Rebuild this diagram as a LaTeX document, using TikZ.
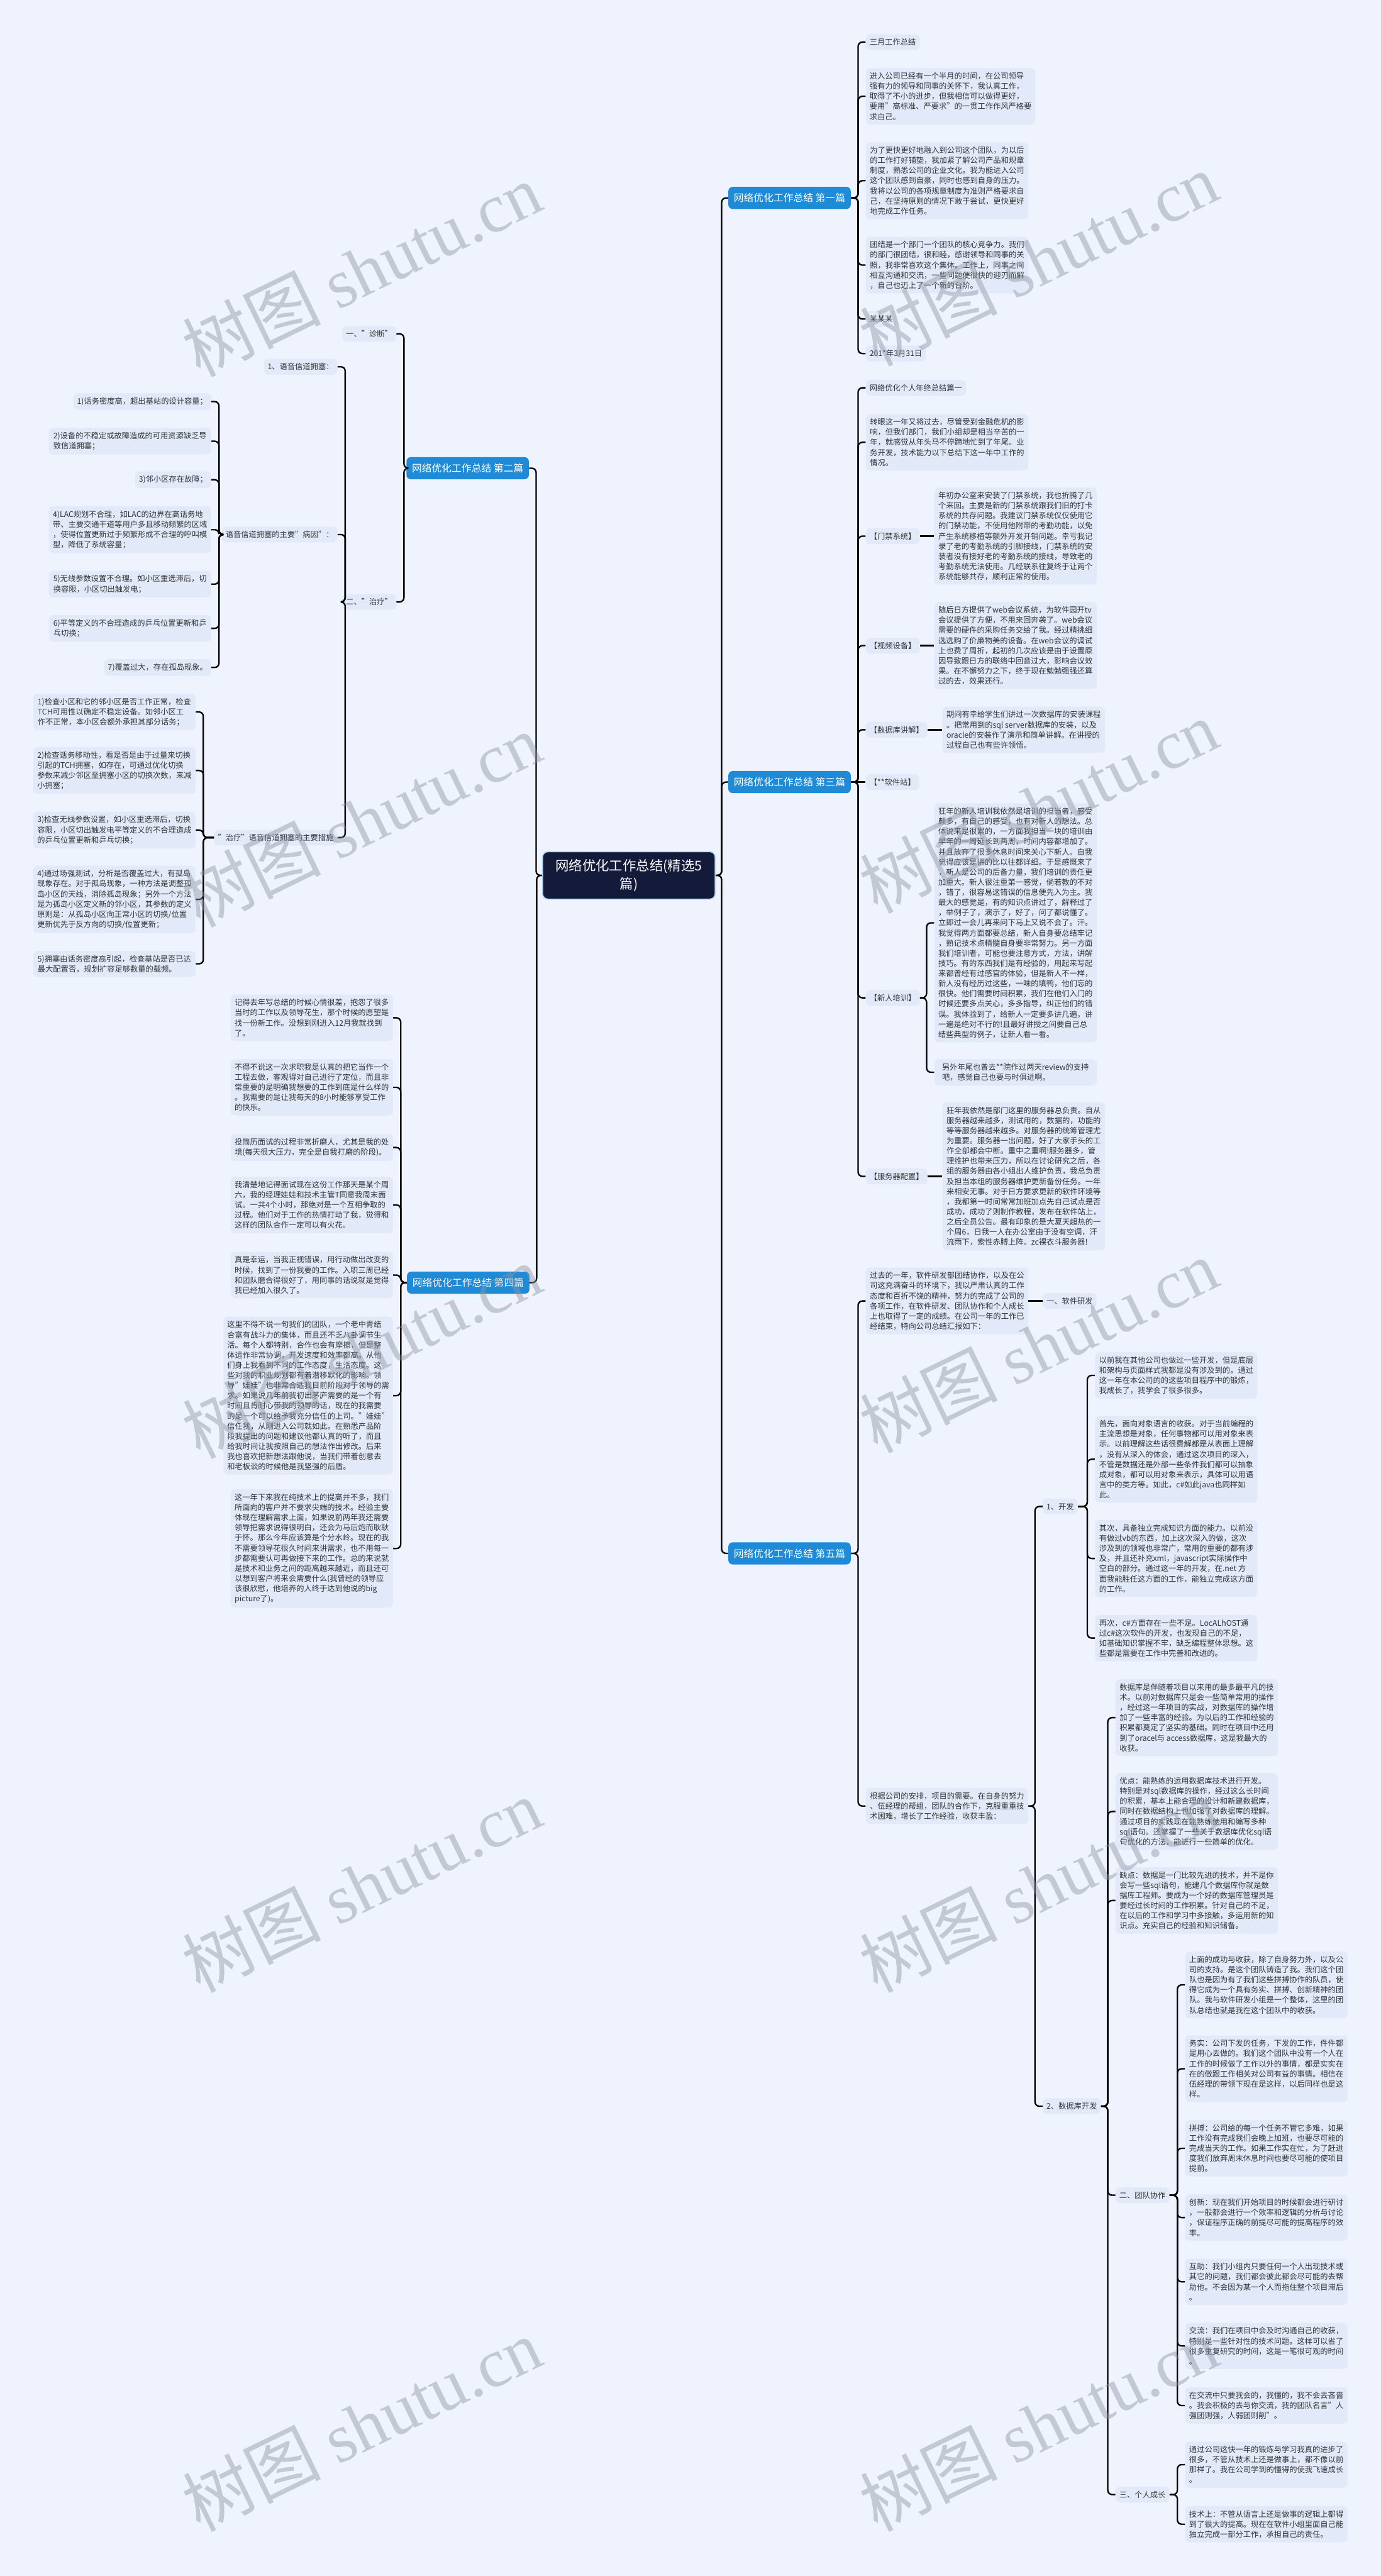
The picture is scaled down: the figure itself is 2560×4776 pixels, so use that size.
\documentclass[tikz,border=0pt]{standalone}
\usepackage{fontspec}
\setmainfont{Noto Sans CJK SC}
\newfontfamily\wmlatin{Liberation Serif}
\definecolor{paper}{HTML}{EEF3FD}
\definecolor{boxc}{HTML}{E2EAF9}
\definecolor{bluec}{HTML}{1F8AD6}
\definecolor{navy}{HTML}{141A3A}
\definecolor{ink}{HTML}{333333}
\definecolor{wmc}{HTML}{8E96A3}
\newcommand\boxfont{\fontsize{7.15pt}{9.4pt}\selectfont}
\newcommand\branchfont{\fontsize{9.2pt}{11pt}\selectfont}
\newcommand\rootfont{\fontsize{12.5pt}{17pt}\selectfont}
\newcommand\wmfont{\fontsize{64pt}{64pt}\selectfont}
\begin{document}
\begin{tikzpicture}[x=0.5pt,y=-0.5pt,
  txt/.style={fill=boxc,rounded corners=4pt,inner xsep=3.5pt,inner ysep=4pt,align=left,font=\boxfont,text=ink},
  para/.style={txt,minimum width=150.5pt},
  branch/.style={fill=bluec,text=white,rounded corners=4pt,font=\branchfont,inner xsep=5pt,minimum height=20.5pt,minimum width=113.5pt},
  root/.style={fill=navy,draw=white!65!bluec,line width=1pt,text=white,rounded corners=5pt,font=\rootfont,align=center,minimum width=160pt,minimum height=44pt},
  link/.style={line width=1.35pt,rounded corners=4pt},
  wmk/.style={text=wmc,opacity=.45,font=\wmfont,rotate=26,anchor=south west,inner sep=0pt}]
\useasboundingbox (0,0) rectangle (2560,4776);
\fill[paper] (0,0) rectangle (2560,4776);

% centre and the five parts
\node[root] (root) at (1166,1623) {网络优化工作总结(精选5\\篇)};
\node[branch,anchor=west] (s1) at (1350,367) {网络优化工作总结 第一篇};
\node[branch,anchor=west] (s3) at (1350,1450) {网络优化工作总结 第三篇};
\node[branch,anchor=west] (s5) at (1350,2880) {网络优化工作总结 第五篇};
\node[branch,anchor=east] (s2) at (981,868) {网络优化工作总结 第二篇};
\node[branch,anchor=east] (s4) at (982,2378) {网络优化工作总结 第四篇};
\draw[link] (s1.west) -- ++(-12,0) |- (root.east);
\draw[link] (s3.west) -- ++(-12,0) |- (root.east);
\draw[link] (s5.west) -- ++(-12,0) |- (root.east);
\draw[link] (s2.east) -- ++(13,0) |- (root.west);
\draw[link] (s4.east) -- ++(13,0) |- (root.west);

% part one
\node[txt,anchor=west] (s1a) at (1605,78) {三月工作总结};
\node[para,anchor=west] (s1b) at (1605,178.5) {进入公司已经有一个半月的时间，在公司领导\\强有力的领导和同事的关怀下，我认真工作，\\取得了不小的进步，但我相信可以做得更好，\\要用"高标准、严要求"的一贯工作作风严格要\\求自己。};
\node[para,anchor=west] (s1c) at (1605,335) {为了更快更好地融入到公司这个团队，为以后\\的工作打好铺垫，我加紧了解公司产品和规章\\制度，熟悉公司的企业文化。我为能进入公司\\这个团队感到自豪，同时也感到自身的压力。\\我将以公司的各项规章制度为准则严格要求自\\己，在坚持原则的情况下敢于尝试，更快更好\\地完成工作任务。};
\node[para,anchor=west] (s1d) at (1605,491.5) {团结是一个部门一个团队的核心竞争力。我们\\的部门很团结，很和睦，感谢领导和同事的关\\照，我非常喜欢这个集体。工作上，同事之间\\相互沟通和交流，一些问题便很快的迎刃而解\\，自己也迈上了一个新的台阶。};
\node[txt,anchor=west] (s1e) at (1605,591.5) {某某某};
\node[txt,anchor=west] (s1f) at (1605,655.5) {201*年3月31日};
\draw[link] (s1a.west) -- ++(-14,0) |- (s1.east);
\draw[link] (s1b.west) -- ++(-14,0) |- (s1.east);
\draw[link] (s1c.west) -- ++(-14,0) |- (s1.east);
\draw[link] (s1d.west) -- ++(-14,0) |- (s1.east);
\draw[link] (s1e.west) -- ++(-14,0) |- (s1.east);
\draw[link] (s1f.west) -- ++(-14,0) |- (s1.east);

% part three
\node[txt,anchor=west] (s3a) at (1605,719) {网络优化个人年终总结篇一};
\node[para,anchor=west] (s3b) at (1605,820) {转眼这一年又将过去，尽管受到金融危机的影\\响，但我们部门，我们小组却是相当辛苦的一\\年，就感觉从年头马不停蹄地忙到了年尾。业\\务开发，技术能力以下总结下这一年中工作的\\情况。};
\node[txt,anchor=west] (s3c) at (1605,994) {【门禁系统】};
\node[para,anchor=west] (s3ct) at (1732,994) {年初办公室来安装了门禁系统，我也折腾了几\\个来回。主要是新的门禁系统跟我们旧的打卡\\系统的共存问题。我建议门禁系统仅仅使用它\\的门禁功能，不使用他附带的考勤功能，以免\\产生系统移植等额外开发开销问题。幸亏我记\\录了老的考勤系统的引脚接线，门禁系统的安\\装者没有接好老的考勤系统的接线，导致老的\\考勤系统无法使用。几经联系往复终于让两个\\系统能够共存，顺利正常的使用。};
\node[txt,anchor=west] (s3d) at (1605,1197) {【视频设备】};
\node[para,anchor=west] (s3dt) at (1732,1197) {随后日方提供了web会议系统，为软件园开tv\\会议提供了方便，不用来回奔袭了。web会议\\需要的硬件的采购任务交给了我。经过精挑细\\选选购了价廉物美的设备。在web会议的调试\\上也费了周折，起初的几次应该是由于设置原\\因导致跟日方的联络中回音过大，影响会议效\\果。在不懈努力之下，终于现在勉勉强强还算\\过的去，效果还行。};
\node[txt,anchor=west] (s3e) at (1605,1353) {【数据库讲解】};
\node[para,anchor=west] (s3et) at (1747,1353) {期间有幸给学生们讲过一次数据库的安装课程\\。把常用到的sql server数据库的安装，以及\\oracle的安装作了演示和简单讲解。在讲授的\\过程自己也有些许领悟。};
\node[txt,anchor=west] (s3f) at (1605,1450) {【**软件站】};
\node[txt,anchor=west] (s3g) at (1605,1850) {【新人培训】};
\node[para,anchor=west] (s3gt) at (1732,1711) {狂年的新人培训我依然是培训的担当者，感受\\颇多，有自己的感受，也有对新人的想法。总\\体说来是很累的，一方面我担当一块的培训由\\早年的一周延长到两周，时间内容都增加了。\\并且放弃了很多休息时间来关心下新人。自我\\觉得应该是讲的比以往都详细。于是感慨来了\\，新人是公司的后备力量，我们培训的责任更\\加重大。新人很注重第一感觉，倘若教的不对\\，错了，很容易这错误的信息便先入为主。我\\最大的感觉是，有的知识点讲过了，解释过了\\，举例子了，演示了，好了，问了都说懂了。\\立即过一会儿再来问下马上又说不会了。汗。\\我觉得两方面都要总结，新人自身要总结牢记\\，熟记技术点精髓自身要非常努力。另一方面\\我们培训者，可能也要注意方式，方法，讲解\\技巧。有的东西我们是有经验的，用起来写起\\来都曾经有过感官的体验，但是新人不一样，\\新人没有经历过这些，一味的填鸭，他们忘的\\很快。他们需要时间积累，我们在他们入门的\\时候还要多点关心，多多指导，纠正他们的错\\误。我体验到了，给新人一定要多讲几遍，讲\\一遍是绝对不行的!且最好讲授之间要自己总\\结些典型的例子，让新人看一看。};
\node[para,anchor=west] (s3gu) at (1732,1988) {另外年尾也曾去**院作过两天review的支持\\吧，感觉自己也要与时俱进啊。};
\node[txt,anchor=west] (s3h) at (1605,2181) {【服务器配置】};
\node[para,anchor=west] (s3ht) at (1747,2181) {狂年我依然是部门这里的服务器总负责。自从\\服务器越来越多，测试用的，数据的，功能的\\等等服务器越来越多。对服务器的统筹管理尤\\为重要。服务器一出问题，好了大家手头的工\\作全部都会中断。重中之重啊!服务器多，管\\理维护也带来压力，所以在讨论研究之后，各\\组的服务器由各小组出人维护负责，我总负责\\及担当本组的服务器维护更新备份任务。一年\\来相安无事。对于日方要求更新的软件环境等\\，我都第一时间常常加班加点先自己试点是否\\成功，成功了则制作教程，发布在软件站上，\\之后全员公告。最有印象的是大夏天超热的一\\个周6，日我一人在办公室由于没有空调，汗\\流雨下，索性赤膊上阵。zc裸衣斗服务器!};
\draw[link] (s3a.west) -- ++(-14,0) |- (s3.east);
\draw[link] (s3b.west) -- ++(-14,0) |- (s3.east);
\draw[link] (s3c.west) -- ++(-14,0) |- (s3.east);
\draw[link] (s3d.west) -- ++(-14,0) |- (s3.east);
\draw[link] (s3e.west) -- ++(-14,0) |- (s3.east);
\draw[link] (s3f.west) -- (s3.east);
\draw[link] (s3g.west) -- ++(-14,0) |- (s3.east);
\draw[link] (s3h.west) -- ++(-14,0) |- (s3.east);
\draw[link] (s3c.east) -- (s3ct.west);
\draw[link] (s3d.east) -- (s3dt.west);
\draw[link] (s3e.east) -- (s3et.west);
\draw[link] (s3h.east) -- (s3ht.west);
\draw[link] (s3gt.west) -- ++(-14,0) |- (s3g.east);
\draw[link] (s3gu.west) -- ++(-14,0) |- (s3g.east);

% part five
\node[para,anchor=west] (s5a) at (1605,2412) {过去的一年，软件研发部团结协作，以及在公\\司这充满奋斗的环境下，我以严肃认真的工作\\态度和百折不饶的精神，努力的完成了公司的\\各项工作，在软件研发、团队协作和个人成长\\上也取得了一定的成绩。在公司一年的工作已\\经结束，特向公司总结汇报如下：};
\node[txt,anchor=west] (s5b) at (1933,2412) {一、软件研发};
\node[para,anchor=west] (s5c) at (1605,3348.5) {根据公司的安排，项目的需要。在自身的努力\\、伍经理的帮组，团队的合作下，克服重重技\\术困难，增长了工作经验，收获丰盈：};
\node[txt,anchor=west] (s5d) at (1933,2793) {1、开发};
\node[para,anchor=west] (d1) at (2030,2550) {以前我在其他公司也做过一些开发，但是底层\\和架构与页面样式我都是没有涉及到的。通过\\这一年在本公司的的这些项目程序中的锻炼，\\我成长了，我学会了很多很多。};
\node[para,anchor=west] (d2) at (2030,2705.5) {首先，面向对象语言的收获。对于当前编程的\\主流思想是对象，任何事物都可以用对象来表\\示。以前理解这些话很费解都是从表面上理解\\，没有从深入的体会，通过这次项目的深入，\\不管是数据还是外部一些条件我们都可以抽象\\成对象，都可以用对象来表示，具体可以用语\\言中的类方等。如此，c\#如此java也同样如\\此。};
\node[para,anchor=west] (d3) at (2030,2889.5) {其次，具备独立完成知识方面的能力。以前没\\有做过vb的东西，加上这次深入的做，这次\\涉及到的领域也非常广，常用的重要的都有涉\\及，并且还补充xml，javascript实际操作中\\空白的部分。通过这一年的开发，在.net 方\\面我能胜任这方面的工作，能独立完成这方面\\的工作。};
\node[para,anchor=west] (d4) at (2030,3037) {再次，c\#方面存在一些不足。LocALhOST通\\过c\#这次软件的开发，也发现自己的不足，\\如基础知识掌握不牢，缺乏编程整体思想。这\\些都是需要在工作中完善和改进的。};
\node[txt,anchor=west] (s5e) at (1933,3905) {2、数据库开发};
\node[para,anchor=west] (e1) at (2068,3184.5) {数据库是伴随着项目以来用的最多最平凡的技\\术。以前对数据库只是会一些简单常用的操作\\，经过这一年项目的实战，对数据库的操作增\\加了一些丰富的经验。为以后的工作和经验的\\积累都奠定了坚实的基础。同时在项目中还用\\到了oracel与 access数据库，这是我最大的\\收获。};
\node[para,anchor=west] (e2) at (2068,3358.5) {优点：能熟练的运用数据库技术进行开发。\\特别是对sql数据库的操作，经过这么长时间\\的积累，基本上能合理的设计和新建数据库，\\同时在数据结构上也加强了对数据库的理解。\\通过项目的实践现在能熟练使用和编写多种\\sql语句。还掌握了一些关于数据库优化sql语\\句优化的方法，能进行一些简单的优化。};
\node[para,anchor=west] (e3) at (2068,3523.5) {缺点：数据是一门比较先进的技术，并不是你\\会写一些sql语句，能建几个数据库你就是数\\据库工程师。要成为一个好的数据库管理员是\\要经过长时间的工作积累。针对自己的不足，\\在以后的工作和学习中多接触，多运用新的知\\识点。充实自己的经验和知识储备。};
\node[txt,anchor=west] (s5f) at (2068,4070) {二、团队协作};
\node[para,anchor=west] (f1) at (2197,3680) {上面的成功与收获，除了自身努力外，以及公\\司的支持。是这个团队铸造了我。我们这个团\\队也是因为有了我们这些拼搏协作的队员，使\\得它成为一个具有务实、拼搏、创新精神的团\\队。我与软件研发小组是一个整体，这里的团\\队总结也就是我在这个团队中的收获。};
\node[para,anchor=west] (f2) at (2197,3835.5) {务实：公司下发的任务，下发的工作，件件都\\是用心去做的。我们这个团队中没有一个人在\\工作的时候做了工作以外的事情，都是实实在\\在的做跟工作相关对公司有益的事情。相信在\\伍经理的带领下现在是这样，以后同样也是这\\样。};
\node[para,anchor=west] (f3) at (2197,3983) {拼搏：公司给的每一个任务不管它多难，如果\\工作没有完成我们会晚上加班，也要尽可能的\\完成当天的工作。如果工作实在忙，为了赶进\\度我们放弃周末休息时间也要尽可能的使项目\\提前。};
\node[para,anchor=west] (f4) at (2197,4111.5) {创新：现在我们开始项目的时候都会进行研讨\\，一般都会进行一个效率和逻辑的分析与讨论\\，保证程序正确的前提尽可能的提高程序的效\\率。};
\node[para,anchor=west] (f5) at (2197,4230.5) {互助：我们小组内只要任何一个人出现技术或\\其它的问题，我们都会彼此都会尽可能的去帮\\助他。不会因为某一个人而拖住整个项目滞后\\。};
\node[para,anchor=west] (f6) at (2197,4349.5) {交流：我们在项目中会及时沟通自己的收获，\\特别是一些针对性的技术问题。这样可以省了\\很多重复研究的时间，这是一笔很可观的时间\\。};
\node[para,anchor=west] (f7) at (2197,4460) {在交流中只要我会的，我懂的，我不会去吝啬\\。我会积极的去与你交流，我的团队名言"人\\强团则强，人弱团则削"。};
\node[txt,anchor=west] (s5g) at (2068,4625) {三、个人成长};
\node[para,anchor=west] (g1) at (2197,4569.5) {通过公司这快一年的锻炼与学习我真的进步了\\很多，不管从技术上还是做事上，都不像以前\\那样了。我在公司学到的懂得的使我飞速成长\\。};
\node[para,anchor=west] (g2) at (2197,4680) {技术上：不管从语言上还是做事的逻辑上都得\\到了很大的提高。现在在软件小组里面自己能\\独立完成一部分工作，承担自己的责任。};
\draw[link] (s5a.west) -- ++(-14,0) |- (s5.east);
\draw[link] (s5c.west) -- ++(-14,0) |- (s5.east);
\draw[link] (s5a.east) -- (s5b.west);
\draw[link] (s5d.west) -- ++(-14,0) |- (s5c.east);
\draw[link] (s5e.west) -- ++(-14,0) |- (s5c.east);
\draw[link] (d1.west) -- ++(-14,0) |- (s5d.east);
\draw[link] (d2.west) -- ++(-14,0) |- (s5d.east);
\draw[link] (d3.west) -- ++(-14,0) |- (s5d.east);
\draw[link] (d4.west) -- ++(-14,0) |- (s5d.east);
\draw[link] (e1.west) -- ++(-14,0) |- (s5e.east);
\draw[link] (e2.west) -- ++(-14,0) |- (s5e.east);
\draw[link] (e3.west) -- ++(-14,0) |- (s5e.east);
\draw[link] (s5f.west) -- ++(-14,0) |- (s5e.east);
\draw[link] (s5g.west) -- ++(-14,0) |- (s5e.east);
\draw[link] (f1.west) -- ++(-14,0) |- (s5f.east);
\draw[link] (f2.west) -- ++(-14,0) |- (s5f.east);
\draw[link] (f3.west) -- ++(-14,0) |- (s5f.east);
\draw[link] (f4.west) -- ++(-14,0) |- (s5f.east);
\draw[link] (f5.west) -- ++(-14,0) |- (s5f.east);
\draw[link] (f6.west) -- ++(-14,0) |- (s5f.east);
\draw[link] (f7.west) -- ++(-14,0) |- (s5f.east);
\draw[link] (g1.west) -- ++(-14,0) |- (s5g.east);
\draw[link] (g2.west) -- ++(-14,0) |- (s5g.east);

% part two
\node[txt,anchor=east] (s2a) at (735,619) {一、"诊断"};
\node[txt,anchor=east] (s2b) at (735,1116) {二、"治疗"};
\node[txt,anchor=east] (s2c) at (626,680) {1、语音信道拥塞：};
\node[txt,anchor=east] (s2d) at (626,991) {语音信道拥塞的主要"病因"：};
\node[txt,anchor=east] (s2e) at (626,1553) {"治疗"语音信道拥塞的主要措施};
\node[txt,anchor=east] (c1) at (392,744.5) {1)话务密度高，超出基站的设计容量；};
\node[para,anchor=east] (c2) at (392,818) {2)设备的不稳定或故障造成的可用资源缺乏导\\致信道拥塞；};
\node[txt,anchor=east] (c3) at (392,889.5) {3)邻小区存在故障；};
\node[para,anchor=east] (c4) at (392,982) {4)LAC规划不合理，如LAC的边界在高话务地\\带、主要交通干道等用户多且移动频繁的区域\\，使得位置更新过于频繁形成不合理的呼叫模\\型，降低了系统容量；};
\node[para,anchor=east] (c5) at (392,1083) {5)无线参数设置不合理。如小区重选滞后，切\\换容限，小区切出触发电；};
\node[para,anchor=east] (c6) at (392,1165) {6)平等定义的不合理造成的乒乓位置更新和乒\\乓切换；};
\node[txt,anchor=east] (c7) at (392,1237.5) {7)覆盖过大，存在孤岛现象。};
\node[para,anchor=east] (t1) at (363,1320) {1)检查小区和它的邻小区是否工作正常，检查\\TCH可用性以确定不稳定设备。如邻小区工\\作不正常，本小区会额外承担其部分话务；};
\node[para,anchor=east] (t2) at (363,1428.5) {2)检查话务移动性，看是否是由于过量来切换\\引起的TCH拥塞，如存在，可通过优化切换\\参数来减少邻区至拥塞小区的切换次数，来减\\小拥塞；};
\node[para,anchor=east] (t3) at (363,1539) {3)检查无线参数设置，如小区重选滞后，切换\\容限，小区切出触发电平等定义的不合理造成\\的乒乓位置更新和乒乓切换；};
\node[para,anchor=east] (t4) at (363,1667.5) {4)通过场强测试，分析是否覆盖过大，有孤岛\\现象存在。对于孤岛现象，一种方法是调整孤\\岛小区的天线，消除孤岛现象；另外一个方法\\是为孤岛小区定义新的邻小区，其参数的定义\\原则是：从孤岛小区向正常小区的切换/位置\\更新优先于反方向的切换/位置更新；};
\node[para,anchor=east] (t5) at (363,1787) {5)拥塞由话务密度高引起，检查基站是否已达\\最大配置否，规划扩容足够数量的载频。};
\draw[link] (s2a.east) -- ++(14,0) |- (s2.west);
\draw[link] (s2b.east) -- ++(14,0) |- (s2.west);
\draw[link] (s2c.east) -- ++(14,0) |- (s2b.west);
\draw[link] (s2d.east) -- ++(14,0) |- (s2b.west);
\draw[link] (s2e.east) -- ++(14,0) |- (s2b.west);
\draw[link] (c1.east) -- ++(14,0) |- (s2d.west);
\draw[link] (c2.east) -- ++(14,0) |- (s2d.west);
\draw[link] (c3.east) -- ++(14,0) |- (s2d.west);
\draw[link] (c4.east) -- ++(14,0) |- (s2d.west);
\draw[link] (c5.east) -- ++(14,0) |- (s2d.west);
\draw[link] (c6.east) -- ++(14,0) |- (s2d.west);
\draw[link] (c7.east) -- ++(14,0) |- (s2d.west);
\draw[link] (t1.east) -- ++(14,0) |- (s2e.west);
\draw[link] (t2.east) -- ++(14,0) |- (s2e.west);
\draw[link] (t3.east) -- ++(14,0) |- (s2e.west);
\draw[link] (t4.east) -- ++(14,0) |- (s2e.west);
\draw[link] (t5.east) -- ++(14,0) |- (s2e.west);

% part four
\node[para,anchor=east] (s4a) at (729,1887) {记得去年写总结的时候心情很差，抱怨了很多\\当时的工作以及领导花生，那个时候的愿望是\\找一份新工作。没想到刚进入12月我就找到\\了。};
\node[para,anchor=east] (s4b) at (729,2016) {不得不说这一次求职我是认真的把它当作一个\\工程去做，客观得对自己进行了定位，而且非\\常重要的是明确我想要的工作到底是什么样的\\。我需要的是让我每天的8小时能够享受工作\\的快乐。};
\node[para,anchor=east] (s4c) at (729,2127.5) {投简历面试的过程非常折磨人，尤其是我的处\\境(每天很大压力，完全是自我打磨的阶段)。};
\node[para,anchor=east] (s4d) at (729,2234) {我清楚地记得面试现在这份工作那天是某个周\\六，我的经理娃娃和技术主管T同意我周末面\\试。一共4个小时，那绝对是一个互相争取的\\过程。他们对于工作的热情打动了我，觉得和\\这样的团队合作一定可以有火花。};
\node[para,anchor=east] (s4e) at (729,2364) {真是幸运，当我正视错误，用行动做出改变的\\时候，找到了一份我要的工作。入职三周已经\\和团队磨合得很好了，用同事的话说就是觉得\\我已经加入很久了。};
\node[para,anchor=east] (s4f) at (729,2587.5) {这里不得不说一句我们的团队，一个老中青结\\合富有战斗力的集体，而且还不乏八卦调节生\\活。每个人都特别，合作也会有摩擦，但是整\\体运作非常协调，开发速度和效率都高。从他\\们身上我看到不同的工作态度，生活态度。这\\些对我的职业规划都有着潜移默化的影响。领\\导"娃娃"也非常合适我目前阶段对于领导的需\\求。如果说几年前我初出茅庐需要的是一个有\\时间且肯耐心带我的领导的话，现在的我需要\\的是一个可以给予我充分信任的上司。"娃娃"\\信任我，从刚进入公司就如此。在熟悉产品阶\\段我提出的问题和建议他都认真的听了，而且\\给我时间让我按照自己的想法作出修改。后来\\我也喜欢把新想法跟他说，当我们带着创意去\\和老板谈的时候他是我坚强的后盾。};
\node[para,anchor=east] (s4g) at (729,2871) {这一年下来我在纯技术上的提高并不多，我们\\所面向的客户并不要求尖端的技术。经验主要\\体现在理解需求上面，如果说前两年我还需要\\领导把需求说得很明白，还会为马后炮而耿耿\\于怀。那么今年应该算是个分水岭。现在的我\\不需要领导花很久时间来讲需求，也不用每一\\步都需要认可再做接下来的工作。总的来说就\\是技术和业务之间的距离越来越近，而且还可\\以想到客户将来会需要什么(我曾经的领导应\\该很欣慰，他培养的人终于达到他说的big\\picture了)。};
\draw[link] (s4a.east) -- ++(14,0) |- (s4.west);
\draw[link] (s4b.east) -- ++(14,0) |- (s4.west);
\draw[link] (s4c.east) -- ++(14,0) |- (s4.west);
\draw[link] (s4d.east) -- ++(14,0) |- (s4.west);
\draw[link] (s4e.east) -- ++(14,0) |- (s4.west);
\draw[link] (s4f.east) -- ++(14,0) |- (s4.west);
\draw[link] (s4g.east) -- ++(14,0) |- (s4.west);

% watermarks
\node[wmk] (w1) at (375,710) {树图 {\wmlatin shutu.cn}};
\node[wmk] (w2) at (375,1730) {树图 {\wmlatin shutu.cn}};
\node[wmk] (w3) at (375,2715) {树图 {\wmlatin shutu.cn}};
\node[wmk] (w4) at (375,3705) {树图 {\wmlatin shutu.cn}};
\node[wmk] (w5) at (375,4705) {树图 {\wmlatin shutu.cn}};
\node[wmk] (w6) at (1630,690) {树图 {\wmlatin shutu.cn}};
\node[wmk] (w7) at (1630,1705) {树图 {\wmlatin shutu.cn}};
\node[wmk] (w8) at (1630,2705) {树图 {\wmlatin shutu.cn}};
\node[wmk] (w9) at (1630,3705) {树图 {\wmlatin shutu.cn}};
\node[wmk] (w10) at (1630,4705) {树图 {\wmlatin shutu.cn}};
\end{tikzpicture}
\end{document}
